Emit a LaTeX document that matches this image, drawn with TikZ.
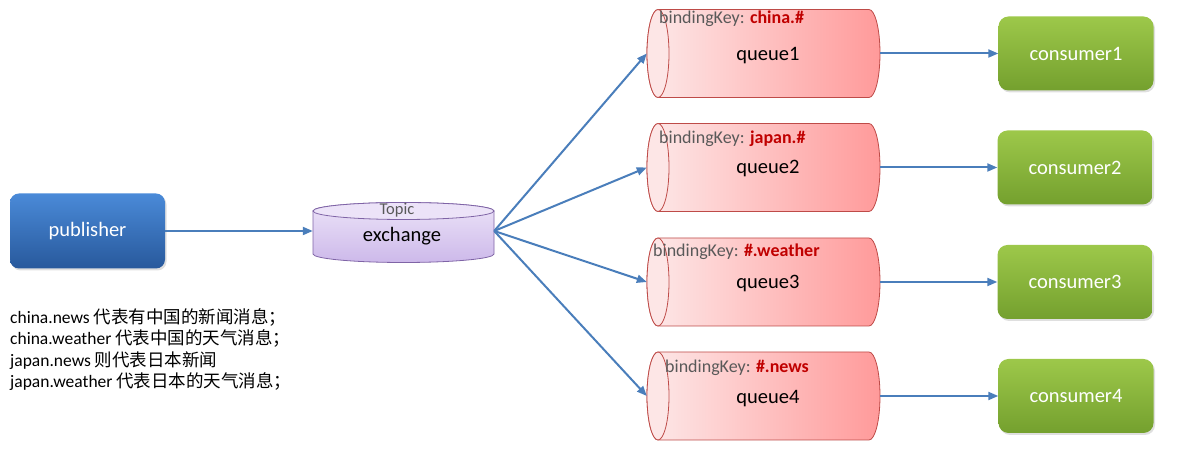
\documentclass[tikz,border=0pt]{standalone}
\usepackage{fontspec}
\setmainfont{Carlito}
\newfontfamily\cjk{Noto Sans CJK SC}
\usetikzlibrary{arrows.meta,shadows,calc}
\definecolor{arrowblue}{HTML}{4A7EBB}
\definecolor{pubtop}{HTML}{4A8AD8}
\definecolor{pubbot}{HTML}{28599C}
\definecolor{contop}{HTML}{9DC84A}
\definecolor{conbot}{HTML}{74A02E}
\definecolor{qleft}{HTML}{FDE9E9}
\definecolor{qright}{HTML}{FF9A9A}
\definecolor{qend}{HTML}{FDE6E6}
\definecolor{qborder}{HTML}{BE4B48}
\definecolor{extop}{HTML}{ECE3F8}
\definecolor{exbot}{HTML}{CDB9EA}
\definecolor{exborder}{HTML}{7F64A6}
\definecolor{keygray}{HTML}{595959}
\definecolor{keyred}{HTML}{C00000}
\newcommand\queueshape[1]{%
  \path[left color=qleft, right color=qright, draw=qborder, line width=0.8pt]
    (658,#1+44) -- (869,#1+44)
    arc[start angle=90, end angle=-90, x radius=11pt, y radius=44pt]
    -- (658,#1-44)
    arc[start angle=270, end angle=90, x radius=11pt, y radius=44pt] -- cycle;
  \filldraw[fill=qend, draw=qborder, line width=0.8pt]
    (658,#1) ellipse[x radius=11pt, y radius=44pt];
}
\begin{document}
\begin{tikzpicture}[x=1pt,y=1pt,
  conn/.style={draw=arrowblue, line width=2pt, -{Triangle[length=10pt,width=8pt]}},
  boxshadow/.style={drop shadow={opacity=0.25, shadow xshift=1.5pt, shadow yshift=-2pt}},
  pubbox/.style={rounded corners=9pt, top color=pubtop, bottom color=pubbot,
    minimum width=155pt, minimum height=75pt, text=white, boxshadow,
    font=\fontsize{20.5}{24}\selectfont},
  conbox/.style={rounded corners=10pt, top color=contop, bottom color=conbot,
    minimum width=155pt, minimum height=74pt, text=white, boxshadow,
    font=\fontsize{20.5}{24}\selectfont},
  anchorbox/.style={inner sep=0pt, minimum width=233pt, minimum height=88pt},
  qtext/.style={font=\fontsize{20.5}{24}\selectfont, text=black},
  keytext/.style={font=\fontsize{18}{21}\selectfont, text=keygray, anchor=west, inner sep=0pt},
  notetext/.style={font=\fontsize{17.5}{21}\selectfont, text=black, anchor=base west, inner sep=0pt},
]
\useasboundingbox (0,0) rectangle (1181,462);

% publisher
\node[pubbox] (pub) at (87.5,231) {publisher};

% exchange cylinder
\path[top color=extop, bottom color=exbot, draw=exborder, line width=0.8pt]
  (313,251) -- (313,208)
  arc[start angle=180, end angle=360, x radius=90.5pt, y radius=8.5pt]
  -- (494,251)
  arc[start angle=0, end angle=180, x radius=90.5pt, y radius=8.5pt] -- cycle;
\filldraw[fill=extop, draw=exborder, line width=0.8pt]
  (403.5,251) ellipse[x radius=90.5pt, y radius=8.5pt];
\node[inner sep=0pt, minimum width=181pt, minimum height=59pt] (ex) at (403.5,231) {};
\node[font=\fontsize{16.5}{19}\selectfont, text=keygray] (extopic) at (397,252) {Topic};
\node[font=\fontsize{20.5}{24}\selectfont, text=black] (exname) at (402,226) {exchange};

% queues
\queueshape{408.5}
\queueshape{294.5}
\queueshape{180}
\queueshape{66}
\node[anchorbox] (q1) at (763.5,408.5) {};
\node[anchorbox] (q2) at (763.5,294.5) {};
\node[anchorbox] (q3) at (763.5,180) {};
\node[anchorbox] (q4) at (763.5,66) {};
\node[qtext] (q1t) at (768,406) {queue1};
\node[qtext] (q2t) at (768,293) {queue2};
\node[qtext] (q3t) at (768,178) {queue3};
\node[qtext] (q4t) at (768,63) {queue4};
\node[keytext] (k1) at (659,443) {bindingKey: {\color{keyred}\bfseries china.\#}};
\node[keytext] (k2) at (659,323) {bindingKey: {\color{keyred}\bfseries japan.\#}};
\node[keytext] (k3) at (653,210) {bindingKey: {\color{keyred}\bfseries \#.weather}};
\node[keytext] (k4) at (665,94) {bindingKey: {\color{keyred}\bfseries \#.news}};

% consumers
\node[conbox] (c1) at (1076,408.5) {consumer1};
\node[conbox] (c2) at (1075,294.5) {consumer2};
\node[conbox] (c3) at (1075,180) {consumer3};
\node[conbox] (c4) at (1076,66) {consumer4};

% notes
\node[notetext] (n1) at (10,138.5) {china.news {\cjk 代表有中国的新闻消息；}};
\node[notetext] (n2) at (10,117) {china.weather {\cjk 代表中国的天气消息；}};
\node[notetext] (n3) at (10,95.5) {japan.news {\cjk 则代表日本新闻}};
\node[notetext] (n4) at (10,74) {japan.weather {\cjk 代表日本的天气消息；}};

% connectors
\draw[conn] (pub.east) -- (ex.west);
\draw[conn] (ex.east) -- (q1.west);
\draw[conn] (ex.east) -- (q2.west);
\draw[conn] (ex.east) -- (q3.west);
\draw[conn] (ex.east) -- (q4.west);
\draw[conn] (q1.east) -- (c1.west);
\draw[conn] (q2.east) -- (c2.west);
\draw[conn] (q3.east) -- (c3.west);
\draw[conn] (q4.east) -- (c4.west);
\end{tikzpicture}
\end{document}
